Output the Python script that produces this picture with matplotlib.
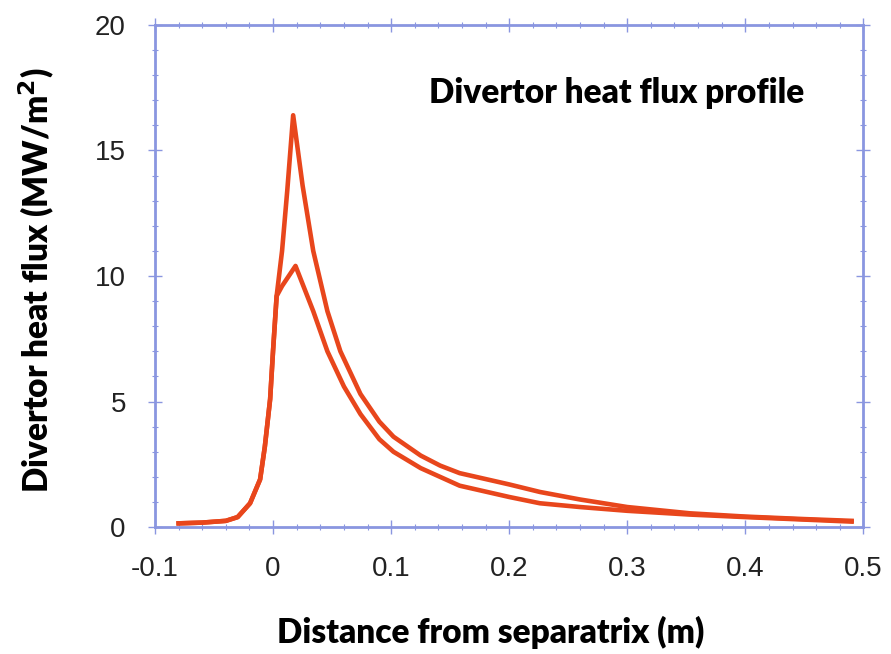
import numpy as np
import matplotlib
matplotlib.use("Agg")
from matplotlib import pyplot as plt
from matplotlib.ticker import MultipleLocator

# distance from separatrix (m) and heat flux (MW/m^2)
xHigh = [-0.08, -0.06, -0.04, -0.03, -0.0195, -0.011, -0.007, -0.0025, 0.0, 0.003,
         0.0076, 0.012, 0.017, 0.025, 0.034, 0.046, 0.057, 0.074, 0.09, 0.102,
         0.125, 0.1415, 0.158, 0.2, 0.226, 0.26, 0.3, 0.353, 0.4, 0.45, 0.49]
qHigh = [0.15, 0.18, 0.25, 0.4, 0.95, 1.9, 3.2, 5.1, 7.05, 9.2,
         11.0, 13.4, 16.4, 13.6, 11.0, 8.6, 7.0, 5.3, 4.2, 3.6,
         2.85, 2.45, 2.15, 1.7, 1.4, 1.1, 0.8, 0.55, 0.42, 0.32, 0.25]

xLow = [-0.08, -0.06, -0.04, -0.03, -0.0195, -0.011, -0.007, -0.0025, 0.0, 0.003,
        0.0076, 0.019, 0.034, 0.046, 0.06, 0.074, 0.09, 0.102, 0.125, 0.1415,
        0.158, 0.2, 0.226, 0.26, 0.3, 0.353, 0.4, 0.45, 0.49]
qLow = [0.15, 0.18, 0.25, 0.4, 0.95, 1.9, 3.2, 5.1, 7.05, 9.2,
        9.6, 10.4, 8.6, 7.0, 5.6, 4.5, 3.5, 3.0, 2.35, 2.0,
        1.65, 1.2, 0.95, 0.8, 0.65, 0.5, 0.4, 0.3, 0.22]

xTicks = [-0.1, 0, 0.1, 0.2, 0.3, 0.4, 0.5]
xTickLabels = ["-0.1", "0", "0.1", "0.2", "0.3", "0.4", "0.5"]
yTicks = [0, 5, 10, 15, 20]

lineColor = "#e8461c"
axisColor = "#8a96e0"

fig = plt.figure(figsize=(8.91, 6.54), dpi=100)
ax = fig.add_axes([0.174, 0.194, 0.795, 0.768])

ax.plot(xHigh, qHigh, color=lineColor, lw=3.3, solid_joinstyle="round")
ax.plot(xLow, qLow, color=lineColor, lw=3.3, solid_joinstyle="round")

ax.set_xlim(-0.1, 0.5)
ax.set_ylim(0, 20)
ax.set_xticks(xTicks)
ax.set_xticklabels(xTickLabels)
ax.set_yticks(yTicks)
ax.xaxis.set_minor_locator(MultipleLocator(0.02))
ax.yaxis.set_minor_locator(MultipleLocator(1))

for s in ax.spines.values():
    s.set_color(axisColor)
    s.set_linewidth(2)

ax.tick_params(which="both", direction="inout", colors=axisColor,
               top=True, right=True, labelcolor="#222222")
ax.tick_params(which="major", length=10, width=1)
ax.tick_params(which="minor", length=5, width=0.8)
ax.tick_params(axis="x", which="major", pad=16)
ax.tick_params(axis="y", which="major", pad=16)
for lab in ax.get_xticklabels() + ax.get_yticklabels():
    lab.set_fontfamily("Liberation Sans")
    lab.set_fontsize(20)

# axis titles placed in figure pixels fractions
fig.text(491 / 891, 1 - 632 / 654, "Distance from separatrix (m)", fontsize=24,
         fontweight="heavy", family="Lato", ha="center", va="center")
fig.text(37 / 891, 1 - 280 / 654, "Divertor heat flux (MW/m$^\\mathbf{2}$)",
         fontsize=24, fontweight="heavy", family="Lato", ha="center", va="center",
         rotation=90)
ax.text(0.651, 0.865, "Divertor heat flux profile", transform=ax.transAxes,
        ha="center", va="center", fontsize=24, fontweight="heavy", family="Lato")

fig.savefig("out.png", dpi=100)
